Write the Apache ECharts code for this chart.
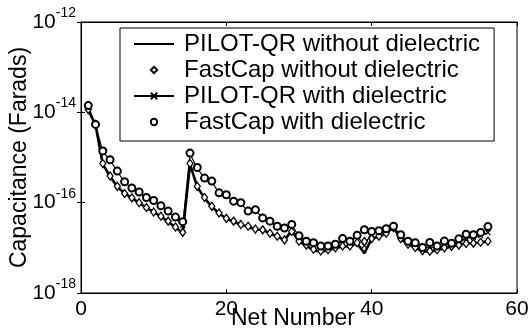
<!DOCTYPE html>
<html><head><meta charset="utf-8">
<script src="https://cdn.jsdelivr.net/npm/echarts@6/dist/echarts.min.js"></script>
<style>html,body{margin:0;padding:0;background:#fff}#c{width:530px;height:329px}</style>
</head><body><div id="c"></div>
<script>
const nets = [1,2,3,4,5,6,7,8,9,10,11,12,13,14,15,16,17,18,19,20,21,22,23,24,25,26,27,28,29,30,31,32,33,34,35,36,37,38,39,40,41,42,43,44,45,46,47,48,49,50,51,52,53,54,55,56];
const pilotWithout = [1.12e-14,5.25e-15,7.08e-16,3.80e-16,2.24e-16,1.62e-16,1.26e-16,1.00e-16,7.59e-17,6.31e-17,4.90e-17,3.80e-17,2.82e-17,2.14e-17,7.08e-16,2.24e-16,1.26e-16,8.13e-17,5.75e-17,4.47e-17,3.80e-17,3.24e-17,2.95e-17,2.51e-17,2.51e-17,2.09e-17,1.78e-17,1.48e-17,2.40e-17,1.38e-17,1.12e-17,8.91e-18,8.13e-18,8.91e-18,9.77e-18,1.07e-17,1.07e-17,1.26e-17,7.59e-18,1.58e-17,1.78e-17,2.09e-17,2.82e-17,1.58e-17,1.20e-17,1.00e-17,8.51e-18,8.13e-18,8.91e-18,9.77e-18,1.07e-17,1.15e-17,1.26e-17,1.26e-17,1.32e-17,1.38e-17];
const fastcapWithout = [1.15e-14,5.4e-15,7.4e-16,3.9e-16,2.3e-16,1.6e-16,1.28e-16,1.0e-16,7.8e-17,6.2e-17,5.0e-17,3.9e-17,2.9e-17,2.2e-17,7.4e-16,2.3e-16,1.3e-16,8.3e-17,5.9e-17,4.5e-17,3.9e-17,3.3e-17,3.0e-17,2.6e-17,2.5e-17,2.1e-17,1.8e-17,1.5e-17,2.3e-17,1.4e-17,1.15e-17,9.3e-18,8.5e-18,9.1e-18,1.0e-17,1.1e-17,1.1e-17,1.3e-17,1.38e-17,1.6e-17,1.8e-17,2.1e-17,2.8e-17,1.6e-17,1.2e-17,1.02e-17,8.7e-18,8.4e-18,9.1e-18,1.0e-17,1.08e-17,1.15e-17,1.25e-17,1.27e-17,1.33e-17,1.4e-17];
const pilotWith = [1.35e-14,5.25e-15,1.35e-15,8.71e-16,4.90e-16,2.82e-16,2.09e-16,1.74e-16,1.26e-16,1.10e-16,8.32e-17,6.31e-17,4.68e-17,3.16e-17,1.20e-15,5.75e-16,3.47e-16,2.95e-16,1.62e-16,1.48e-16,1.05e-16,9.77e-17,6.31e-17,6.92e-17,4.47e-17,3.80e-17,2.95e-17,2.69e-17,3.24e-17,1.78e-17,1.38e-17,1.26e-17,1.07e-17,1.07e-17,1.15e-17,1.45e-17,1.38e-17,1.85e-17,1.12e-17,2.2e-17,2.35e-17,2.6e-17,2.95e-17,1.91e-17,1.38e-17,1.26e-17,1.0e-17,1.05e-17,1.0e-17,1.2e-17,1.15e-17,1.38e-17,1.62e-17,1.70e-17,1.86e-17,2.19e-17];
const fastcapWith = [1.41e-14,5.4e-15,1.4e-15,8.9e-16,5.0e-16,2.9e-16,2.1e-16,1.72e-16,1.3e-16,1.12e-16,8.5e-17,6.5e-17,4.8e-17,3.8e-17,1.25e-15,6.0e-16,3.5e-16,3.0e-16,1.65e-16,1.5e-16,1.08e-16,1.0e-16,6.5e-17,7.0e-17,4.6e-17,3.9e-17,3.0e-17,2.75e-17,3.3e-17,1.85e-17,1.4e-17,1.3e-17,1.1e-17,1.1e-17,1.2e-17,1.6e-17,1.4e-17,1.9e-17,2.51e-17,2.3e-17,2.4e-17,2.65e-17,3.0e-17,1.95e-17,1.4e-17,1.3e-17,1.02e-17,1.32e-17,1.1e-17,1.41e-17,1.26e-17,1.58e-17,2.0e-17,1.95e-17,2.19e-17,2.95e-17];
const seriesNames = ['PILOT-QR without dielectric','FastCap without dielectric','PILOT-QR with dielectric','FastCap with dielectric'];
const xTicks = [0,20,40,60];
const yExponents = [-18,-16,-14,-12];
const xTitle = 'Net Number';
const yTitle = 'Capacitance (Farads)';

const FONT = '"Liberation Sans", Arial, sans-serif';
function pairs(vals){ return nets.map((n,i)=>[n, vals[i]]); }
const crossPath = 'path://M0,0L10,10M10,0L0,10';

const chart = echarts.init(document.getElementById('c'), null, {renderer:'canvas'});
const yLabel = {
  show:true, margin:5,
  formatter: v => '{b|10}{s|' + Math.round(Math.log10(v)) + '}',
  rich:{
    b:{fontSize:21, fontFamily:FONT, color:'#000'},
    s:{fontSize:14, fontFamily:FONT, color:'#000', padding:[0,0,18,0]}
  }
};
chart.setOption({
  animation:false,
  backgroundColor:'#fff',
  textStyle:{fontFamily:FONT},
  grid:{left:81, top:22, right:13, bottom:36, show:true, borderColor:'#000', borderWidth:1, backgroundColor:'transparent', containLabel:false, outerBoundsMode:'none'},
  legend:{
    left:120, top:28, orient:'vertical',
    data: seriesNames,
    itemWidth:40, itemHeight:8, itemGap:2,
    padding:[4,14,7,13],
    borderColor:'#000', borderWidth:1, borderRadius:0, backgroundColor:'#fff',
    textStyle:{fontSize:24, fontFamily:FONT, color:'#000', lineHeight:22, padding:[0,0,0,5]}
  },
  xAxis:[{
    type:'value', min:xTicks[0], max:xTicks[xTicks.length-1], interval:20,
    name:xTitle, nameLocation:'middle', nameGap:14, nameMoveOverlap:false,
    nameTextStyle:{fontSize:23, fontFamily:FONT, color:'#000', padding:[0,12,0,0]},
    axisLine:{show:true, lineStyle:{color:'#000', width:1}},
    axisTick:{show:true, inside:true, length:4, lineStyle:{color:'#000'}},
    axisLabel:{show:true, margin:6, fontSize:21, fontFamily:FONT, color:'#000'},
    splitLine:{show:false}
  },{
    type:'value', position:'top', min:xTicks[0], max:xTicks[xTicks.length-1], interval:20,
    axisLine:{show:true, lineStyle:{color:'#000'}},
    axisTick:{show:true, inside:true, length:4, lineStyle:{color:'#000'}},
    axisLabel:{show:false}, splitLine:{show:false}
  }],
  yAxis:[{
    type:'log', logBase:10, min:Math.pow(10,yExponents[0]), max:Math.pow(10,yExponents[yExponents.length-1]), interval:2,
    name:yTitle, nameLocation:'middle', nameGap:50, nameRotate:90, nameMoveOverlap:false,
    nameTextStyle:{fontSize:23, fontFamily:FONT, color:'#000'},
    axisLine:{show:true, lineStyle:{color:'#000', width:1}},
    axisTick:{show:true, inside:true, length:4, lineStyle:{color:'#000'}},
    axisLabel:yLabel,
    splitLine:{show:false}
  },{
    type:'log', logBase:10, position:'right', min:Math.pow(10,yExponents[0]), max:Math.pow(10,yExponents[yExponents.length-1]), interval:2,
    axisLine:{show:true, lineStyle:{color:'#000'}},
    axisTick:{show:true, inside:true, length:4, lineStyle:{color:'#000'}},
    axisLabel:{show:false}, splitLine:{show:false}
  }],
  series:[
    {name:seriesNames[0], type:'line', data:pairs(pilotWithout), symbol:'none', showSymbol:false,
     lineStyle:{color:'#000', width:2.6}, itemStyle:{color:'rgba(0,0,0,0)'}, z:3},
    {name:seriesNames[1], type:'line', data:pairs(fastcapWithout), symbol:'diamond', symbolSize:[6,8], showSymbol:true,
     lineStyle:{opacity:0, width:0}, itemStyle:{color:'#fff', borderColor:'#000', borderWidth:1.3}, z:4},
    {name:seriesNames[2], type:'line', data:pairs(pilotWith), symbol:crossPath, symbolSize:5, showSymbol:true,
     lineStyle:{color:'#000', width:1.2}, itemStyle:{color:'#000', borderColor:'#000', borderWidth:1.2}, z:3},
    {name:seriesNames[3], type:'line', data:pairs(fastcapWith), symbol:'emptyCircle', symbolSize:7, showSymbol:true,
     lineStyle:{opacity:0, width:0}, itemStyle:{color:'#000', borderColor:'#000', borderWidth:1.3}, z:5}
  ]
});
</script></body></html>
